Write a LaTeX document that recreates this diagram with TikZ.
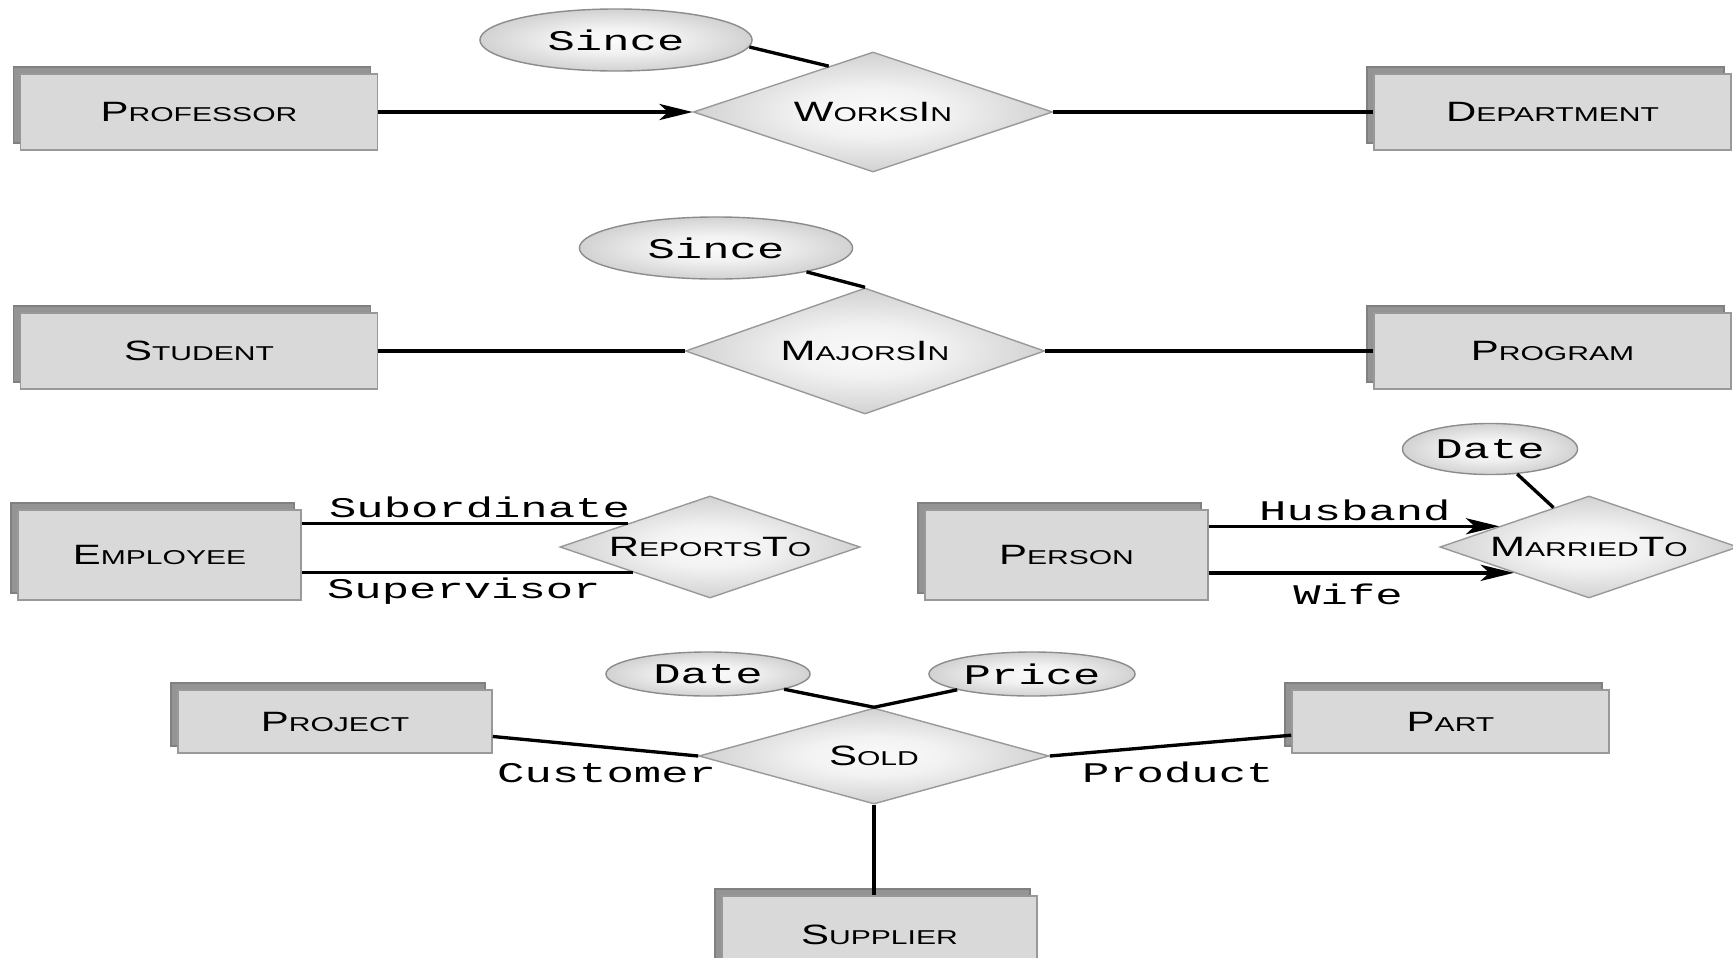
\documentclass[tikz,border=0pt]{standalone}
\usepackage{fontspec}
\newfontfamily\entfont[FakeStretch=1.5]{Liberation Sans}
\newfontfamily\rolefont[FakeStretch=1.6]{Liberation Mono}
\usetikzlibrary{shapes.geometric,shadows,arrows.meta}
\newcommand{\lowcap}[1]{{\fontsize{5.7}{7}\selectfont #1}}
\pgfdeclareradialshading{ershade}{\pgfpoint{0bp}{0bp}}{color(0bp)=(black!2); color(10bp)=(black!5); color(30bp)=(black!22); color(50bp)=(black!46)}

\begin{document}
\begin{tikzpicture}[x=0.01cm,y=-0.01cm,
  entity/.style={rectangle, draw=black!40, fill=black!15, inner sep=0pt,
    minimum width=3.57cm, minimum height=0.76cm,
    font=\entfont\fontsize{7.95}{9}\selectfont,
    general shadow={fill=black!42, draw=black!50, shadow xshift=-0.07cm, shadow yshift=0.07cm}},
  relship/.style={diamond, draw=black!40, shading=ershade, aspect=3,
    inner sep=0pt, font=\entfont\fontsize{7.95}{9}\selectfont},
  attrib/.style={ellipse, draw=black!45, shading=ershade,
    inner sep=0pt, font=\rolefont\fontsize{8.1}{9}\selectfont},
  role/.style={inner sep=1pt, font=\rolefont\fontsize{8.1}{9}\selectfont},
  pointer/.style={-{Stealth[length=9.5pt,width=4.6pt,inset=2.5pt]}},
  link/.style={line width=.95pt}]
\useasboundingbox (0,0) rectangle (1733,957);

% WorksIn
\node (professor) at (199,112) [entity] {P\lowcap{ROFESSOR}};
\node (department) at (1552.5,112) [entity] {D\lowcap{EPARTMENT}};
\node (worksin) at (873,112) [relship, minimum width=3.59cm, minimum height=1.2cm] {W\lowcap{ORKS}I\lowcap{N}};
\node (since1) at (616,40) [attrib, minimum width=2.72cm, minimum height=0.62cm] {Since};

\draw[link,pointer] (professor) -- (worksin);
\draw[link] (worksin) -- (department);
\draw[link] (since1.-3) -- (worksin.134);

% MajorsIn
\node (student) at (199,351) [entity] {S\lowcap{TUDENT}};
\node (program) at (1552.5,351) [entity] {P\lowcap{ROGRAM}};
\node (majorsin) at (865,351) [relship, minimum width=3.59cm, minimum height=1.26cm] {M\lowcap{AJORS}I\lowcap{N}};
\node (since2) at (716,248) [attrib, minimum width=2.73cm, minimum height=0.62cm] {Since};

\draw[link] (student) -- (majorsin);
\draw[link] (majorsin) -- (program);
\draw[link] (since2) -- (majorsin.north);

% ReportsTo
\node (employee) at (159.5,555) [entity, minimum width=2.83cm, minimum height=0.9cm] {E\lowcap{MPLOYEE}};
\node (reportsto) at (710,547) [relship, minimum width=3cm, minimum height=1.02cm] {R\lowcap{EPORTS}T\lowcap{O}};

\draw[link] (employee.east |- reportsto.164.4) -- (reportsto.164.4)
  node[role, above, pos=.545] {Subordinate};
\draw[link] (employee.east |- reportsto.198.1) -- (reportsto.198.1)
  node[role, below, pos=.49] {Supervisor};

% MarriedTo
\node (person) at (1066.5,555) [entity, minimum width=2.83cm, minimum height=0.9cm] {P\lowcap{ERSON}};
\node (marriedto) at (1589,547) [relship, minimum width=2.98cm, minimum height=1.02cm] {M\lowcap{ARRIED}T\lowcap{O}};
\node (date1) at (1490,449) [attrib, minimum width=1.75cm, minimum height=0.51cm] {Date};

\draw[link,pointer] (person.east |- marriedto.167.6) -- (marriedto.167.6)
  node[role, above, pos=.503] {Husband};
\draw[link,pointer] (person.east |- marriedto.199.6) -- (marriedto.199.6)
  node[role, below, pos=.456, yshift=-0.06cm] {Wife};
\draw[link] (date1) -- (marriedto.132);

% Sold
\node (project) at (335,721.5) [entity, minimum width=3.14cm, minimum height=0.63cm] {P\lowcap{ROJECT}};
\node (part) at (1450.5,721.5) [entity, minimum width=3.17cm, minimum height=0.63cm] {P\lowcap{ART}};
\node (supplier) at (879.5,935) [entity, minimum width=3.15cm, minimum height=0.78cm] {S\lowcap{UPPLIER}};
\node (sold) at (874,756) [relship, aspect=3.6, minimum width=3.5cm, minimum height=0.96cm] {S\lowcap{OLD}};
\node (date2) at (708,674) [attrib, minimum width=2.04cm, minimum height=0.44cm] {Date};
\node (price) at (1032,674) [attrib, minimum width=2.06cm, minimum height=0.44cm] {Price};
\node (customer) at ([shift={(22,26)}]sold.west) [role, anchor=base east] {Customer};
\node (product) at ([shift={(28,26)}]sold.east) [role, anchor=base west] {Product};

\draw[link] (project) -- (sold.west);
\draw[link] (sold.east) -- (part);
\draw[link] (sold.south) -- (sold.south |- supplier.north);
\draw[link] (date2) -- (sold.north);
\draw[link] (price) -- (sold.north);

\end{tikzpicture}
\end{document}
